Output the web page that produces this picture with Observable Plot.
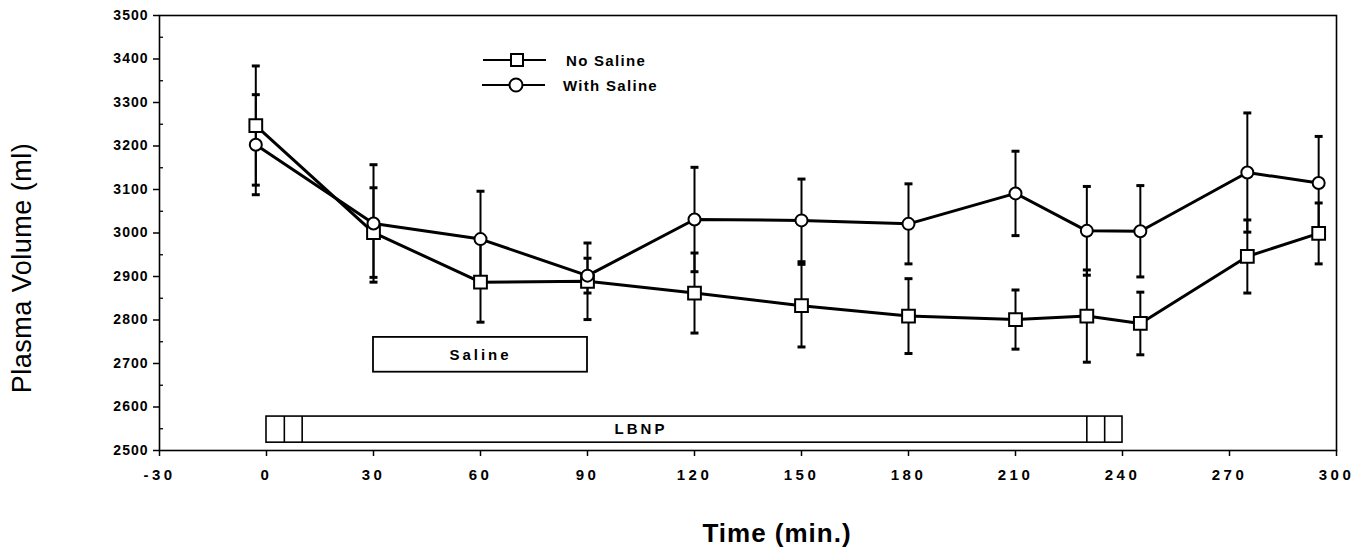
<!DOCTYPE html>
<html><head><meta charset="utf-8">
<script src="https://cdn.jsdelivr.net/npm/d3@7"></script>
<script src="https://cdn.jsdelivr.net/npm/@observablehq/plot@0.6"></script>
<style>
body{margin:0;background:#fff;}
#wrap{position:relative;width:1367px;height:554px;}
svg{font-family:"Liberation Sans",Arial,sans-serif;}
g[aria-label="x-axis tick label"] text{letter-spacing:3.5px;}
g[aria-label="y-axis tick label"] text{letter-spacing:1px;}
#legend{position:absolute;left:0;top:0;pointer-events:none;}
</style></head><body><div id="wrap"></div>
<script>
// Time points (min)
const times = [-3, 30, 60, 90, 120, 150, 180, 210, 230, 245, 275, 295];
// No Saline: mean and error (ml)
const noSaline   = [3247, 3001, 2887, 2889, 2862, 2833, 2809, 2801, 2809, 2792, 2946, 2999];
const noSalineSE = [137, 103, 92, 88, 92, 95, 86, 68, 106, 72, 84, 70];
// With Saline: mean and error (ml)
const withSaline   = [3203, 3022, 2986, 2902, 3031, 3029, 3021, 3091, 3005, 3004, 3139, 3115];
const withSalineSE = [115, 135, 110, 40, 120, 95, 92, 97, 102, 105, 137, 107];
// Tick values
const xTicks = [-30, 0, 30, 60, 90, 120, 150, 180, 210, 240, 270, 300];
const yTicks = [2500, 2600, 2700, 2800, 2900, 3000, 3100, 3200, 3300, 3400, 3500];
const yMinor = [2550, 2650, 2750, 2850, 2950, 3050, 3150, 3250, 3350, 3450];
// Protocol bars
const salineBar = [{x1: 30, x2: 90, y1: 2680, y2: 2760, label: "Saline"}];
const lbnpBar = [{x1: 0, x2: 240, y1: 2518, y2: 2578, label: "LBNP", lx: 105}];
const lbnpDividers = [5, 10, 230, 235];

const rowsNo = times.map((t, i) => ({t, v: noSaline[i], e: noSalineSE[i]}));
const rowsWith = times.map((t, i) => ({t, v: withSaline[i], e: withSalineSE[i]}));
const allRows = rowsNo.concat(rowsWith);

const capSymbol = {draw(ctx, size) { const w = Math.sqrt(size) / 2; ctx.moveTo(-w, 0); ctx.lineTo(w, 0); }};

const chart = Plot.plot({
  width: 1367, height: 554,
  marginLeft: 159, marginRight: 31, marginTop: 15, marginBottom: 104,
  style: {fontFamily: '"Liberation Sans", Arial, sans-serif', background: "#fff", color: "black"},
  x: {domain: [-30, 300], label: null},
  y: {domain: [2500, 3500], label: null},
  marks: [
    Plot.axisY({ticks: yTicks, tickSize: 6, tickPadding: 5, fontSize: 14, fontWeight: "bold", tickFormat: d => String(d), strokeWidth: 1.5}),
    Plot.axisY({ticks: yMinor, tickSize: 4, dx: 4, text: null, strokeWidth: 1.3}),
    Plot.axisX({ticks: xTicks, tickSize: 6, tickPadding: 13, fontSize: 15, fontWeight: "bold", tickFormat: d => String(d), strokeWidth: 1.5}),
    Plot.frame({stroke: "black", strokeWidth: 1.6}),
    // LBNP bar
    Plot.rect(lbnpBar, {x1: "x1", x2: "x2", y1: "y1", y2: "y2", fill: "white", stroke: "black", strokeWidth: 1.6}),
    Plot.ruleX(lbnpDividers, {x: d => d, y1: lbnpBar[0].y1, y2: lbnpBar[0].y2, stroke: "black", strokeWidth: 1.6}),
    Plot.text(lbnpBar, {x: "lx", y: d => (d.y1 + d.y2) / 2, text: "label", fontSize: 15, fontWeight: "bold", fill: "black"}),
    // Saline bar
    Plot.rect(salineBar, {x1: "x1", x2: "x2", y1: "y1", y2: "y2", fill: "white", stroke: "black", strokeWidth: 1.8}),
    Plot.text(salineBar, {x: d => (d.x1 + d.x2) / 2, y: d => (d.y1 + d.y2) / 2, text: "label", fontSize: 15, fontWeight: "bold", fill: "black"}),
    // error bars
    Plot.ruleX(allRows, {x: "t", y1: d => d.v - d.e, y2: d => d.v + d.e, stroke: "black", strokeWidth: 2}),
    Plot.dot(allRows, {x: "t", y: d => d.v + d.e, symbol: capSymbol, r: 4.5, stroke: "black", strokeWidth: 3}),
    Plot.dot(allRows, {x: "t", y: d => d.v - d.e, symbol: capSymbol, r: 4.5, stroke: "black", strokeWidth: 3}),
    // lines
    Plot.line(rowsNo, {x: "t", y: "v", stroke: "black", strokeWidth: 3}),
    Plot.line(rowsWith, {x: "t", y: "v", stroke: "black", strokeWidth: 3}),
    // markers
    Plot.dot(rowsNo, {x: "t", y: "v", symbol: "square", r: 7.2, fill: "white", stroke: "black", strokeWidth: 2}),
    Plot.dot(rowsWith, {x: "t", y: "v", symbol: "circle", r: 6, fill: "white", stroke: "black", strokeWidth: 2}),
    // axis titles
    Plot.text(["Time (min.)"], {frameAnchor: "bottom", textAnchor: "middle", lineAnchor: "middle", dx: 29, dy: 83, text: d => d, fontSize: 26, fontWeight: "bold", fill: "black"}),
    Plot.text(["Plasma Volume (ml)"], {frameAnchor: "left", textAnchor: "middle", lineAnchor: "middle", dx: -137, dy: 35, rotate: -90, text: d => d, fontSize: 27, fill: "black"})
  ]
});

// letter spacing for the labels
const spacing = {"Saline": "3px", "LBNP": "3px", "Time (min.)": "1px", "Plasma Volume (ml)": "0.5px"};
d3.select(chart).selectAll("text").each(function() {
  const s = spacing[this.textContent];
  if (s) this.style.letterSpacing = s;
});

const wrap = document.getElementById("wrap");
wrap.appendChild(chart);

// Legend overlay
const legendItems = [
  {name: "No Saline", symbol: "square"},
  {name: "With Saline", symbol: "circle"}
];
const ns = "http://www.w3.org/2000/svg";
const lg = document.createElementNS(ns, "svg");
lg.setAttribute("id", "legend");
lg.setAttribute("width", 1367);
lg.setAttribute("height", 554);
legendItems.forEach((item, i) => {
  const cy = 60 + i * 25;
  const x0 = 483 - i, x1 = 546 - i, cx = 517 - i;
  const ln = document.createElementNS(ns, "line");
  ln.setAttribute("x1", x0); ln.setAttribute("x2", x1);
  ln.setAttribute("y1", cy); ln.setAttribute("y2", cy);
  ln.setAttribute("stroke", "black"); ln.setAttribute("stroke-width", 2.2);
  lg.appendChild(ln);
  let s;
  if (item.symbol === "square") {
    s = document.createElementNS(ns, "rect");
    s.setAttribute("x", cx - 6); s.setAttribute("y", cy - 6);
    s.setAttribute("width", 12); s.setAttribute("height", 12);
  } else {
    s = document.createElementNS(ns, "circle");
    s.setAttribute("cx", cx); s.setAttribute("cy", cy); s.setAttribute("r", 6.5);
  }
  s.setAttribute("fill", "white"); s.setAttribute("stroke", "black"); s.setAttribute("stroke-width", 2);
  lg.appendChild(s);
  const tx = document.createElementNS(ns, "text");
  tx.setAttribute("x", 566 - i * 3); tx.setAttribute("y", cy + 5.5);
  tx.setAttribute("font-family", '"Liberation Sans", Arial, sans-serif');
  tx.setAttribute("font-size", 15); tx.setAttribute("font-weight", "bold");
  tx.setAttribute("letter-spacing", "1.3px");
  tx.textContent = item.name;
  lg.appendChild(tx);
});
wrap.appendChild(lg);
</script></body></html>
